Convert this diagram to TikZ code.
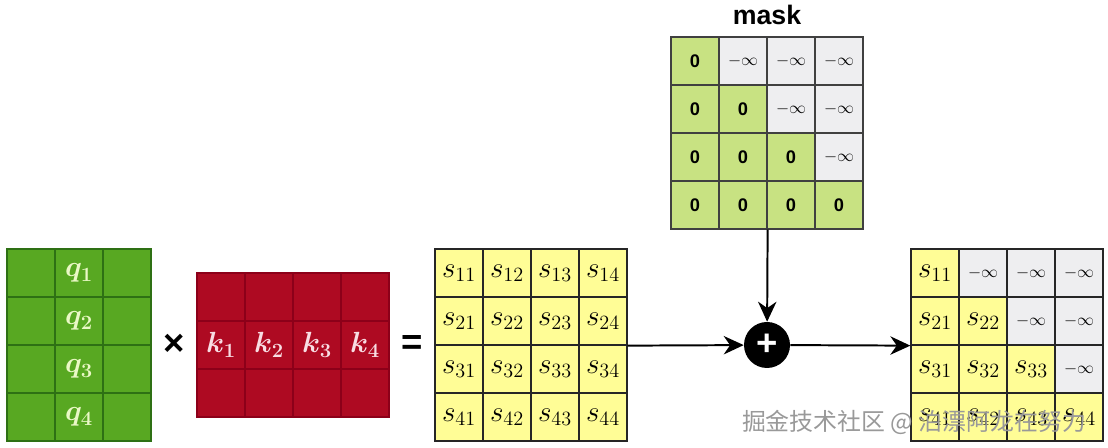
\documentclass[tikz,border=0pt]{standalone}
\usepackage{fontspec}
\usepackage{tikz}
\usetikzlibrary{arrows.meta}
\newfontfamily\arialfont{Liberation Sans}
\newfontfamily\cjkfont{Noto Sans CJK SC}
\definecolor{qgreen}{HTML}{58A822}
\definecolor{qline}{HTML}{2E7014}
\definecolor{qtext}{HTML}{EAF8C6}
\definecolor{kred}{HTML}{AE0A22}
\definecolor{kline}{HTML}{8C0019}
\definecolor{ktext}{HTML}{F8DDE3}
\definecolor{syellow}{HTML}{FFFD96}
\definecolor{mgreen}{HTML}{C8E282}
\definecolor{mgray}{HTML}{EEEEF0}

\tikzset{
  cell/.style={draw, minimum size=1.2cm, inner sep=0pt, line width=0.9pt},
  qcell/.style={cell, fill=qgreen, draw=qline, text=qtext, font=\huge\boldmath},
  kcell/.style={cell, fill=kred, draw=kline, text=ktext, font=\huge\boldmath},
  scell/.style={cell, fill=syellow, draw=black!85, font=\huge},
  zcell/.style={cell, fill=mgreen, draw=black!75, font=\fontsize{13}{15}\selectfont\arialfont\bfseries},
  icell/.style={cell, fill=mgray, draw=black!75, font=\large},
  opsign/.style={font=\fontsize{26}{28}\selectfont\arialfont\bfseries},
  arr/.style={line width=1.4pt, -{Stealth[length=5mm,width=4.6mm,inset=1.6mm]}},
}

\begin{document}
\begin{tikzpicture}
    \useasboundingbox (-0.175,-0.175) rectangle (27.525,11.025);
    % query matrix
    \node[qcell] (q11) at (0.6,4.2) {};
    \node[qcell] (q12) at (1.8,4.2) {$q_1$};
    \node[qcell] (q13) at (3.0,4.2) {};
    \node[qcell] (q21) at (0.6,3.0) {};
    \node[qcell] (q22) at (1.8,3.0) {$q_2$};
    \node[qcell] (q23) at (3.0,3.0) {};
    \node[qcell] (q31) at (0.6,1.8) {};
    \node[qcell] (q32) at (1.8,1.8) {$q_3$};
    \node[qcell] (q33) at (3.0,1.8) {};
    \node[qcell] (q41) at (0.6,0.6) {};
    \node[qcell] (q42) at (1.8,0.6) {$q_4$};
    \node[qcell] (q43) at (3.0,0.6) {};
    \node[opsign] (times) at (4.175,2.4) {×};
    % key matrix
    \node[kcell] (k11) at (5.35,3.6) {};
    \node[kcell] (k12) at (6.55,3.6) {};
    \node[kcell] (k13) at (7.75,3.6) {};
    \node[kcell] (k14) at (8.95,3.6) {};
    \node[kcell] (k21) at (5.35,2.4) {$k_1$};
    \node[kcell] (k22) at (6.55,2.4) {$k_2$};
    \node[kcell] (k23) at (7.75,2.4) {$k_3$};
    \node[kcell] (k24) at (8.95,2.4) {$k_4$};
    \node[kcell] (k31) at (5.35,1.2) {};
    \node[kcell] (k32) at (6.55,1.2) {};
    \node[kcell] (k33) at (7.75,1.2) {};
    \node[kcell] (k34) at (8.95,1.2) {};
    \node[opsign] (equals) at (10.125,2.4) {=};
    % scores
    \node[scell] (s11) at (11.3,4.2) {$s_{11}$};
    \node[scell] (s12) at (12.5,4.2) {$s_{12}$};
    \node[scell] (s13) at (13.7,4.2) {$s_{13}$};
    \node[scell] (s14) at (14.9,4.2) {$s_{14}$};
    \node[scell] (s21) at (11.3,3.0) {$s_{21}$};
    \node[scell] (s22) at (12.5,3.0) {$s_{22}$};
    \node[scell] (s23) at (13.7,3.0) {$s_{23}$};
    \node[scell] (s24) at (14.9,3.0) {$s_{24}$};
    \node[scell] (s31) at (11.3,1.8) {$s_{31}$};
    \node[scell] (s32) at (12.5,1.8) {$s_{32}$};
    \node[scell] (s33) at (13.7,1.8) {$s_{33}$};
    \node[scell] (s34) at (14.9,1.8) {$s_{34}$};
    \node[scell] (s41) at (11.3,0.6) {$s_{41}$};
    \node[scell] (s42) at (12.5,0.6) {$s_{42}$};
    \node[scell] (s43) at (13.7,0.6) {$s_{43}$};
    \node[scell] (s44) at (14.9,0.6) {$s_{44}$};
    % mask
    \node[font=\fontsize{19}{22}\selectfont\arialfont\bfseries] (masklabel) at (19.0,10.65) {mask};
    \node[zcell] (m11) at (17.2,9.5) {0};
    \node[icell] (m12) at (18.4,9.5) {$-\infty$};
    \node[icell] (m13) at (19.6,9.5) {$-\infty$};
    \node[icell] (m14) at (20.8,9.5) {$-\infty$};
    \node[zcell] (m21) at (17.2,8.3) {0};
    \node[zcell] (m22) at (18.4,8.3) {0};
    \node[icell] (m23) at (19.6,8.3) {$-\infty$};
    \node[icell] (m24) at (20.8,8.3) {$-\infty$};
    \node[zcell] (m31) at (17.2,7.1) {0};
    \node[zcell] (m32) at (18.4,7.1) {0};
    \node[zcell] (m33) at (19.6,7.1) {0};
    \node[icell] (m34) at (20.8,7.1) {$-\infty$};
    \node[zcell] (m41) at (17.2,5.9) {0};
    \node[zcell] (m42) at (18.4,5.9) {0};
    \node[zcell] (m43) at (19.6,5.9) {0};
    \node[zcell] (m44) at (20.8,5.9) {0};
    % add
    \node[circle, fill=black, minimum size=1.15cm, inner sep=0pt, text=white,
          font=\fontsize{26}{28}\selectfont\arialfont\bfseries] (plus) at (19.0,2.4) {+};
    % masked scores
    \node[scell] (r11) at (23.2,4.2) {$s_{11}$};
    \node[icell, draw=black!85] (r12) at (24.4,4.2) {$-\infty$};
    \node[icell, draw=black!85] (r13) at (25.6,4.2) {$-\infty$};
    \node[icell, draw=black!85] (r14) at (26.8,4.2) {$-\infty$};
    \node[scell] (r21) at (23.2,3.0) {$s_{21}$};
    \node[scell] (r22) at (24.4,3.0) {$s_{22}$};
    \node[icell, draw=black!85] (r23) at (25.6,3.0) {$-\infty$};
    \node[icell, draw=black!85] (r24) at (26.8,3.0) {$-\infty$};
    \node[scell] (r31) at (23.2,1.8) {$s_{31}$};
    \node[scell] (r32) at (24.4,1.8) {$s_{32}$};
    \node[scell] (r33) at (25.6,1.8) {$s_{33}$};
    \node[icell, draw=black!85] (r34) at (26.8,1.8) {$-\infty$};
    \node[scell] (r41) at (23.2,0.6) {$s_{41}$};
    \node[scell] (r42) at (24.4,0.6) {$s_{42}$};
    \node[scell] (r43) at (25.6,0.6) {$s_{43}$};
    \node[scell] (r44) at (26.8,0.6) {$s_{44}$};
    % connectors
    \draw[arr] (s24.south east) -- (plus);
    \draw[arr] (m42.south east) -- (plus);
    \draw[arr] (plus) -- (r21.south west);
    \node[font=\fontsize{17}{20}\selectfont\cjkfont, text=black!40] (wmark) at (22.675,0.475) {掘金技术社区 @ 泊漂阿龙在努力};
\end{tikzpicture}
\end{document}
